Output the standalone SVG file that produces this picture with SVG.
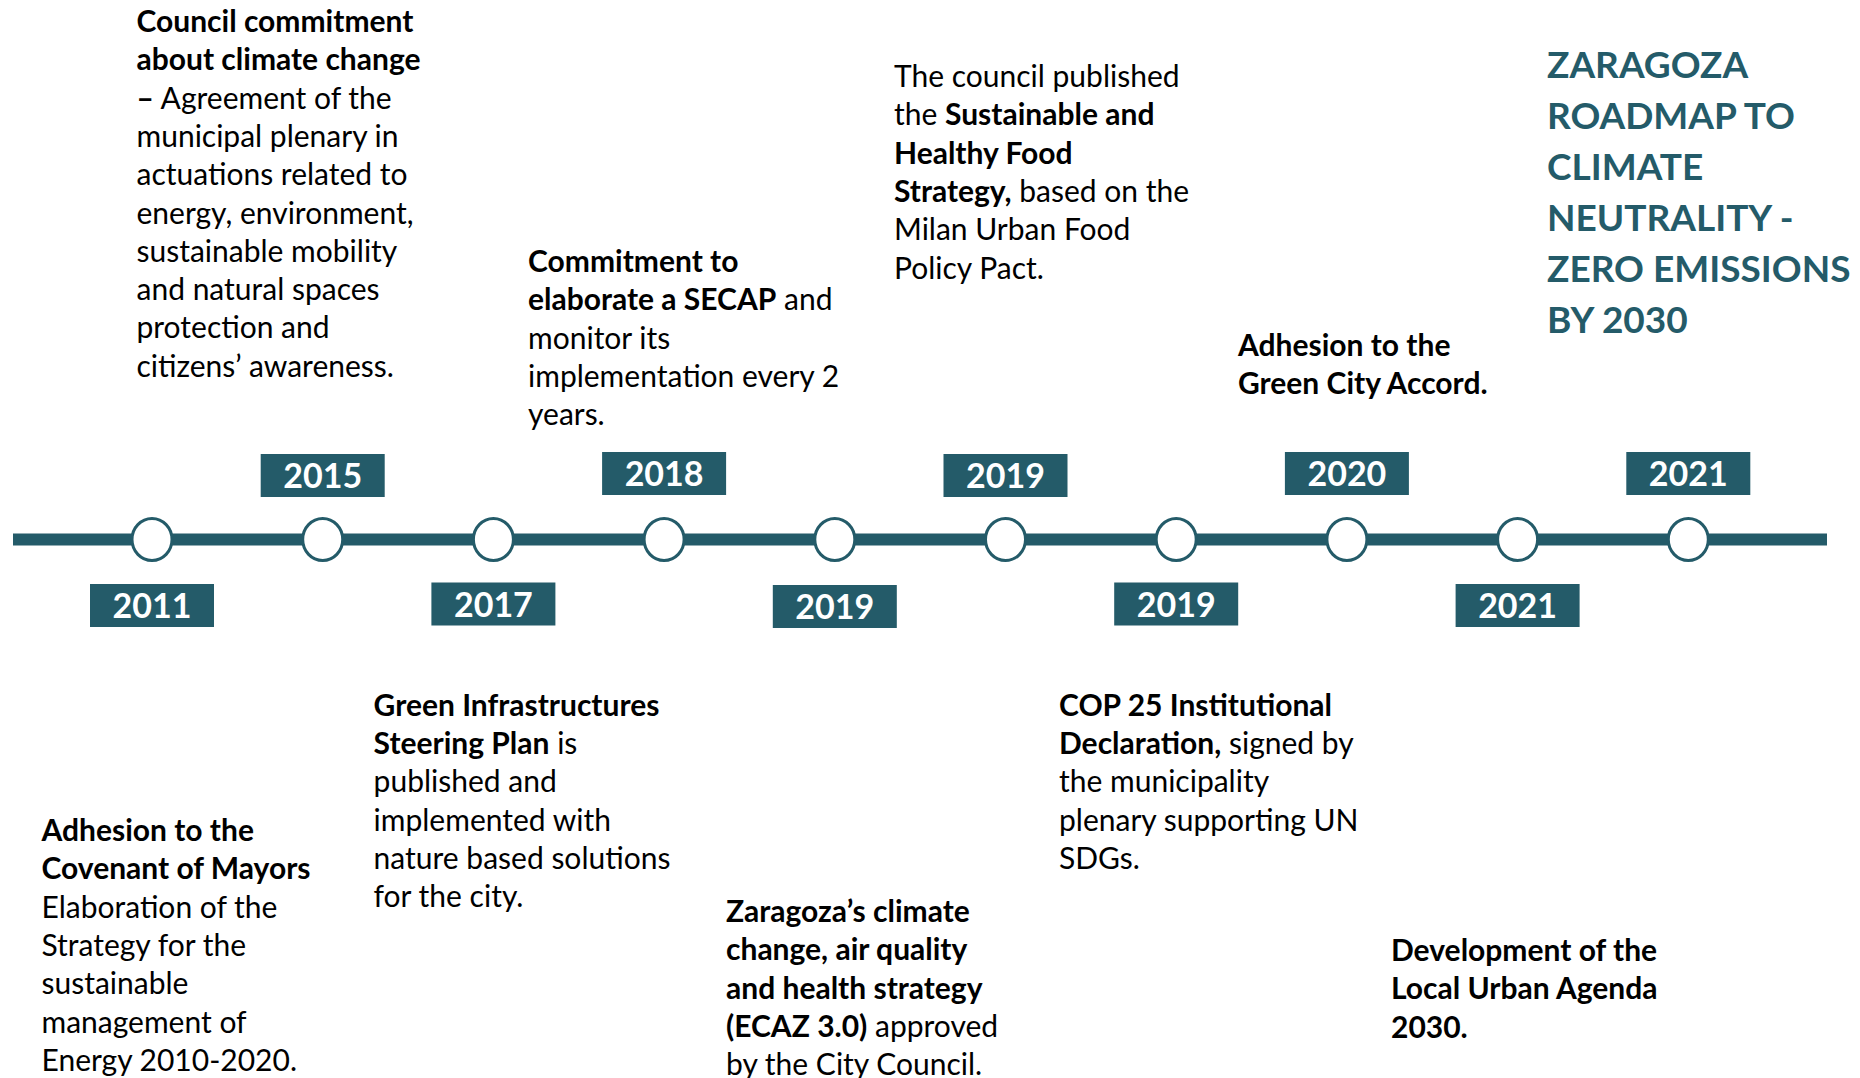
<svg xmlns="http://www.w3.org/2000/svg" width="1860" height="1078" viewBox="0 0 1860 1078">
<style>
.t{font-family:Lato,"Open Sans","Liberation Sans",sans-serif;font-size:30px;fill:#000}
.b{font-weight:700}
.yr{fill:#245B69}
.yt{font-family:Lato,"Open Sans","Liberation Sans",sans-serif;font-size:34px;font-weight:700;fill:#fff;text-anchor:middle}
.dot{fill:#fff;stroke:#245B69;stroke-width:3}
.title{font-family:Lato,"Open Sans","Liberation Sans",sans-serif;font-size:37px;font-weight:700;fill:#245B69}
.line{stroke:#245B69;stroke-width:12;fill:none}
</style>
<rect width="1860" height="1078" fill="#fff"/>
<g id="connectors">
<line class="line" x1="13" y1="539.5" x2="1827" y2="539.5"/>
</g>
<g id="title">
<text class="title" x="1547"><tspan x="1547" y="78">ZARAGOZA</tspan><tspan x="1547" y="129">ROADMAP TO</tspan><tspan x="1547" y="180">CLIMATE</tspan><tspan x="1547" y="231">NEUTRALITY -</tspan><tspan x="1547" y="282">ZERO EMISSIONS</tspan><tspan x="1547" y="333">BY 2030</tspan></text>
</g>
<g id="e2011">
<ellipse class="dot" cx="152" cy="539.5" rx="20" ry="21"/>
<rect class="yr" x="90" y="584" width="124" height="43"/>
<text class="yt" x="152" y="618">2011</text>
<text class="t"><tspan class="b" x="41.5" y="841">Adhesion to the</tspan><tspan class="b" x="41.5" y="879.3">Covenant of Mayors</tspan><tspan x="41.5" y="917.6">Elaboration of the</tspan><tspan x="41.5" y="955.9">Strategy for the</tspan><tspan x="41.5" y="994.2">sustainable</tspan><tspan x="41.5" y="1032.5">management of</tspan><tspan x="41.5" y="1070.8">Energy 2010-2020.</tspan></text>
</g>
<g id="e2015">
<ellipse class="dot" cx="322.7" cy="539.5" rx="20" ry="21"/>
<rect class="yr" x="260.7" y="454" width="124" height="43"/>
<text class="yt" x="322.7" y="488">2015</text>
<text class="t"><tspan class="b" x="136.5" y="32">Council commitment</tspan><tspan class="b" x="136.5" y="70.3">about climate change</tspan><tspan x="136.5" y="108.6"><tspan class="b">–</tspan> Agreement of the</tspan><tspan x="136.5" y="146.9">municipal plenary in</tspan><tspan x="136.5" y="185.2">actuations related to</tspan><tspan x="136.5" y="223.5">energy, environment,</tspan><tspan x="136.5" y="261.8">sustainable mobility</tspan><tspan x="136.5" y="300.1">and natural spaces</tspan><tspan x="136.5" y="338.4">protection and</tspan><tspan x="136.5" y="376.7">citizens’ awareness.</tspan></text>
</g>
<g id="e2017">
<ellipse class="dot" cx="493.4" cy="539.5" rx="20" ry="21"/>
<rect class="yr" x="431.4" y="582.5" width="124" height="43"/>
<text class="yt" x="493.4" y="616.5">2017</text>
<text class="t"><tspan class="b" x="373.6" y="715.7">Green Infrastructures</tspan><tspan x="373.6" y="754"><tspan class="b">Steering Plan</tspan> is</tspan><tspan x="373.6" y="792.3">published and</tspan><tspan x="373.6" y="830.6">implemented with</tspan><tspan x="373.6" y="868.9">nature based solutions</tspan><tspan x="373.6" y="907.2">for the city.</tspan></text>
</g>
<g id="e2018">
<ellipse class="dot" cx="664.1" cy="539.5" rx="20" ry="21"/>
<rect class="yr" x="602.1" y="452" width="124" height="43"/>
<text class="yt" x="664.1" y="486">2018</text>
<text class="t"><tspan class="b" x="528" y="272">Commitment to</tspan><tspan x="528" y="310.3"><tspan class="b">elaborate a SECAP</tspan> and</tspan><tspan x="528" y="348.6">monitor its</tspan><tspan x="528" y="386.9">implementation every 2</tspan><tspan x="528" y="425.2">years.</tspan></text>
</g>
<g id="e2019a">
<ellipse class="dot" cx="834.8" cy="539.5" rx="20" ry="21"/>
<rect class="yr" x="772.8" y="585" width="124" height="43"/>
<text class="yt" x="834.8" y="619">2019</text>
<text class="t"><tspan class="b" x="726" y="922">Zaragoza’s climate</tspan><tspan class="b" x="726" y="960.3">change, air quality</tspan><tspan class="b" x="726" y="998.6">and health strategy</tspan><tspan x="726" y="1036.9"><tspan class="b">(ECAZ 3.0)</tspan> approved</tspan><tspan x="726" y="1075.2">by the City Council.</tspan></text>
</g>
<g id="e2019b">
<ellipse class="dot" cx="1005.5" cy="539.5" rx="20" ry="21"/>
<rect class="yr" x="943.5" y="454" width="124" height="43"/>
<text class="yt" x="1005.5" y="488">2019</text>
<text class="t"><tspan x="894" y="87">The council published</tspan><tspan x="894" y="125.3">the <tspan class="b">Sustainable and</tspan></tspan><tspan class="b" x="894" y="163.6">Healthy Food</tspan><tspan x="894" y="201.9"><tspan class="b">Strategy,</tspan> based on the</tspan><tspan x="894" y="240.2">Milan Urban Food</tspan><tspan x="894" y="278.5">Policy Pact.</tspan></text>
</g>
<g id="e2019c">
<ellipse class="dot" cx="1176.2" cy="539.5" rx="20" ry="21"/>
<rect class="yr" x="1114.2" y="582.5" width="124" height="43"/>
<text class="yt" x="1176.2" y="616.5">2019</text>
<text class="t"><tspan class="b" x="1059" y="715.7">COP 25 Institutional</tspan><tspan x="1059" y="754"><tspan class="b">Declaration,</tspan> signed by</tspan><tspan x="1059" y="792.3">the municipality</tspan><tspan x="1059" y="830.6">plenary supporting UN</tspan><tspan x="1059" y="868.9">SDGs.</tspan></text>
</g>
<g id="e2020">
<ellipse class="dot" cx="1346.9" cy="539.5" rx="20" ry="21"/>
<rect class="yr" x="1284.9" y="452" width="124" height="43"/>
<text class="yt" x="1346.9" y="486">2020</text>
<text class="t"><tspan class="b" x="1238" y="356">Adhesion to the</tspan><tspan class="b" x="1238" y="394.3">Green City Accord.</tspan></text>
</g>
<g id="e2021a">
<ellipse class="dot" cx="1517.6" cy="539.5" rx="20" ry="21"/>
<rect class="yr" x="1455.6" y="584" width="124" height="43"/>
<text class="yt" x="1517.6" y="618">2021</text>
<text class="t"><tspan class="b" x="1391" y="961">Development of the</tspan><tspan class="b" x="1391" y="999.3">Local Urban Agenda</tspan><tspan class="b" x="1391" y="1037.6">2030.</tspan></text>
</g>
<g id="e2021b">
<ellipse class="dot" cx="1688.3" cy="539.5" rx="20" ry="21"/>
<rect class="yr" x="1626.3" y="452" width="124" height="43"/>
<text class="yt" x="1688.3" y="486">2021</text>
</g>
</svg>
